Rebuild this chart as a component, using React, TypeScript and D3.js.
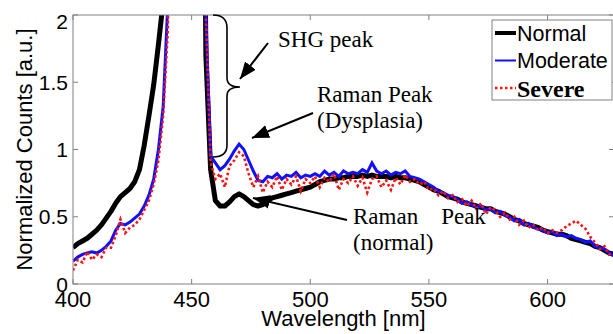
import { useEffect, useRef } from "react";
import * as d3 from "d3";

// wavelengths sampled every 2 nm, 400..628
const wavelengths = [
  400, 402, 404, 406, 408, 410, 412, 414, 416, 418, 420, 422, 424, 426, 428, 430,
  432, 434, 436, 438, 440, 442, 444, 446, 448, 450, 452, 454, 456, 458, 460, 462,
  464, 466, 468, 470, 472, 474, 476, 478, 480, 482, 484, 486, 488, 490, 492, 494,
  496, 498, 500, 502, 504, 506, 508, 510, 512, 514, 516, 518, 520, 522, 524, 526,
  528, 530, 532, 534, 536, 538, 540, 542, 544, 546, 548, 550, 552, 554, 556, 558,
  560, 562, 564, 566, 568, 570, 572, 574, 576, 578, 580, 582, 584, 586, 588, 590,
  592, 594, 596, 598, 600, 602, 604, 606, 608, 610, 612, 614, 616, 618, 620, 622,
  624, 626, 628,
];

const normal = [
  0.27, 0.3, 0.32, 0.34, 0.37, 0.4, 0.44, 0.49, 0.54, 0.6, 0.65, 0.68, 0.71, 0.76, 0.85, 1.03,
  1.25, 1.48, 1.78, 2.1, 3.5, 6, 8, 8, 8, 8, 8, 6, 1.7, 0.85, 0.62, 0.58,
  0.58, 0.61, 0.65, 0.67, 0.65, 0.62, 0.59, 0.58, 0.59, 0.62, 0.64, 0.65, 0.66, 0.67, 0.68, 0.69,
  0.7, 0.71, 0.72, 0.74, 0.76, 0.77, 0.78, 0.78, 0.79, 0.79, 0.8, 0.8, 0.8, 0.81, 0.8, 0.81,
  0.8, 0.8, 0.8, 0.79, 0.8, 0.79, 0.79, 0.78, 0.77, 0.76, 0.74, 0.72, 0.7, 0.69, 0.67, 0.65,
  0.64, 0.63, 0.61, 0.6, 0.59, 0.58, 0.57, 0.56, 0.56, 0.54, 0.53, 0.52, 0.5, 0.48, 0.47, 0.45,
  0.44, 0.43, 0.42, 0.4, 0.39, 0.38, 0.37, 0.37, 0.36, 0.34, 0.33, 0.32, 0.31, 0.3, 0.28, 0.27,
  0.25, 0.23, 0.22,
];

const moderate = [
  0.17, 0.2, 0.22, 0.23, 0.24, 0.23, 0.25, 0.28, 0.32, 0.4, 0.45, 0.44, 0.46, 0.49, 0.52, 0.58,
  0.66, 0.78, 1.0, 1.32, 2.1, 6, 8, 8, 8, 8, 8, 6, 2.0, 0.95, 0.9, 0.85,
  0.88, 0.93, 0.99, 1.04, 1.0, 0.92, 0.84, 0.77, 0.76, 0.8, 0.79, 0.82, 0.78, 0.81, 0.8, 0.83,
  0.79, 0.81, 0.8, 0.82, 0.8, 0.84, 0.81, 0.83, 0.8, 0.84, 0.82, 0.83, 0.82, 0.85, 0.83, 0.9,
  0.84, 0.82, 0.84, 0.81, 0.83, 0.82, 0.84, 0.8, 0.79, 0.78, 0.76, 0.74, 0.72, 0.69, 0.68, 0.66,
  0.65, 0.63, 0.6, 0.61, 0.59, 0.57, 0.58, 0.55, 0.56, 0.53, 0.54, 0.51, 0.5, 0.47, 0.48, 0.44,
  0.45, 0.42, 0.41, 0.4, 0.38, 0.39, 0.36, 0.37, 0.35, 0.36, 0.34, 0.33, 0.31, 0.32, 0.28, 0.27,
  0.26, 0.23, 0.21,
];

const severe = [
  0.1, 0.18, 0.16, 0.24, 0.18, 0.22, 0.2, 0.27, 0.27, 0.36, 0.48, 0.38, 0.42, 0.44, 0.48, 0.55,
  0.62, 0.74, 0.92, 1.25, 1.9, 6, 8, 8, 8, 8, 8, 6, 2.0, 0.9, 0.78, 0.82,
  0.72, 0.88, 0.92, 0.98, 0.95, 0.82, 0.72, 0.8, 0.68, 0.76, 0.72, 0.8, 0.7, 0.78, 0.74, 0.8,
  0.69, 0.78, 0.75, 0.8, 0.72, 0.79, 0.76, 0.82, 0.7, 0.78, 0.75, 0.8, 0.73, 0.79, 0.68, 0.78,
  0.8, 0.72, 0.77, 0.7, 0.79, 0.74, 0.81, 0.76, 0.78, 0.74, 0.76, 0.7, 0.71, 0.66, 0.69, 0.64,
  0.66, 0.61, 0.63, 0.58, 0.62, 0.56, 0.6, 0.52, 0.57, 0.55, 0.5, 0.53, 0.48, 0.5, 0.44, 0.47,
  0.42, 0.44, 0.4, 0.42, 0.38, 0.4, 0.38, 0.4, 0.43, 0.45, 0.47, 0.44, 0.41, 0.35, 0.31, 0.26,
  0.28, 0.22, 0.24,
];

const xTicks = [400, 450, 500, 550, 600];
const yTicks = [0, 0.5, 1, 1.5, 2];

const W = 613;
const H = 334;
const left = 73, right = 614, top = 15, bottom = 284;

export default function App() {
  const svgRef = useRef<SVGSVGElement>(null);

  useEffect(() => {
    if (!svgRef.current) return;
    const svg = d3.select(svgRef.current);
    svg.selectAll("*").remove();

    const x = d3.scaleLinear().domain([400, 628]).range([left, right]);
    const y = d3.scaleLinear().domain([0, 2]).range([bottom, top]);

    const defs = svg.append("defs");
    defs.append("clipPath").attr("id", "plotclip")
      .append("rect").attr("x", left).attr("y", top)
      .attr("width", right - left).attr("height", bottom - top);
    defs.append("marker").attr("id", "head")
      .attr("viewBox", "0 0 10 10").attr("refX", 10).attr("refY", 5)
      .attr("markerWidth", 17).attr("markerHeight", 17)
      .attr("markerUnits", "userSpaceOnUse").attr("orient", "auto")
      .append("path").attr("d", "M0,1 L10,5 L0,9 Z").attr("fill", "#000");

    const line = d3.line<number>()
      .x((_, i) => x(wavelengths[i]))
      .y((d) => y(d));

    const plot = svg.append("g").attr("clip-path", "url(#plotclip)");
    plot.append("path").attr("d", line(normal)!)
      .attr("fill", "none").attr("stroke", "#000").attr("stroke-width", 5)
      .attr("stroke-linejoin", "round");
    plot.append("path").attr("d", line(moderate)!)
      .attr("fill", "none").attr("stroke", "#1010ff").attr("stroke-width", 3);
    plot.append("path").attr("d", line(severe)!)
      .attr("fill", "none").attr("stroke", "#ff1010").attr("stroke-width", 2.6)
      .attr("stroke-dasharray", "2.5,2.5");

    // frame + inward ticks
    const axisColor = "#808080";
    const sans = "Liberation Sans, Arial, sans-serif";
    svg.append("rect").attr("x", left).attr("y", top)
      .attr("width", right - left).attr("height", bottom - top)
      .attr("fill", "none").attr("stroke", axisColor).attr("stroke-width", 1);
    xTicks.forEach((t) => {
      svg.append("line").attr("x1", x(t)).attr("x2", x(t)).attr("y1", bottom).attr("y2", bottom - 5)
        .attr("stroke", axisColor);
      svg.append("line").attr("x1", x(t)).attr("x2", x(t)).attr("y1", top).attr("y2", top + 5)
        .attr("stroke", axisColor);
      svg.append("text").attr("x", x(t)).attr("y", bottom + 23)
        .attr("text-anchor", "middle").style("font-family", sans)
        .style("font-size", "22px").text(t);
    });
    yTicks.forEach((t) => {
      svg.append("line").attr("x1", left).attr("x2", left + 5).attr("y1", y(t)).attr("y2", y(t))
        .attr("stroke", axisColor);
      svg.append("line").attr("x1", right).attr("x2", right - 5).attr("y1", y(t)).attr("y2", y(t))
        .attr("stroke", axisColor);
      svg.append("text").attr("x", left - 5).attr("y", Math.max(y(t), 21))
        .attr("dy", "0.36em")
        .attr("text-anchor", "end").style("font-family", sans)
        .style("font-size", "21px").text(t);
    });

    svg.append("text").attr("x", (left + right) / 2).attr("y", 326)
      .attr("text-anchor", "middle").style("font-family", sans)
      .style("font-size", "22px").text("Wavelength [nm]");
    svg.append("text").attr("transform", `translate(32, ${(top + bottom) / 2}) rotate(-90)`)
      .attr("text-anchor", "middle").style("font-family", sans)
      .style("font-size", "22px").text("Normalized Counts [a.u.]");

    // legend
    const lg = svg.append("g");
    lg.append("rect").attr("x", 492).attr("y", 20).attr("width", 120).attr("height", 80)
      .attr("fill", "#fff").attr("stroke", axisColor);
    const items = [
      { name: "Normal", color: "#000", w: 4, dash: null, font: sans, weight: "normal", size: 21.5 },
      { name: "Moderate", color: "#1010ff", w: 2, dash: null, font: sans, weight: "normal", size: 21.5 },
      { name: "Severe", color: "#ff1010", w: 2.5, dash: "2.5,2.5", font: "Liberation Serif, Times New Roman, serif", weight: "bold", size: 24 },
    ];
    items.forEach((it, i) => {
      const yy = 33 + i * 27.5;
      lg.append("line").attr("x1", 495).attr("x2", 516).attr("y1", yy).attr("y2", yy)
        .attr("stroke", it.color).attr("stroke-width", it.w)
        .attr("stroke-dasharray", it.dash);
      lg.append("text").attr("x", 517).attr("y", yy).attr("dy", "0.36em")
        .style("font-family", it.font).style("font-weight", it.weight)
        .style("font-size", `${it.size}px`).text(it.name);
    });

    // annotations
    const serif = "Liberation Serif, Times New Roman, serif";
    const ann = (tx: number, ty: number, s: string) =>
      svg.append("text").attr("x", tx).attr("y", ty).style("font-family", serif)
        .style("font-size", "23px").attr("xml:space", "preserve").text(s);
    ann(278, 47, "SHG peak");
    ann(317, 102, "Raman Peak");
    ann(317, 128, "(Dysplasia)");
    ann(353, 224, "Raman    Peak");
    ann(353, 250, "(normal)");

    // brace
    svg.append("path")
      .attr("d", "M213,15 Q227,15 227,28 L227,78 Q227,87 240,87 Q227,87 227,96 L227,145 Q227,157 213,157")
      .attr("fill", "none").attr("stroke", "#000").attr("stroke-width", 1.6);

    const arrow = (x1: number, y1: number, x2: number, y2: number) =>
      svg.append("line").attr("x1", x1).attr("y1", y1).attr("x2", x2).attr("y2", y2)
        .attr("stroke", "#000").attr("stroke-width", 2).attr("marker-end", "url(#head)");
    arrow(268, 43, 240, 79);
    arrow(313, 113, 252, 138);
    arrow(347, 220, 253, 198);
  }, []);

  return (
    <svg
      ref={svgRef}
      width={W}
      height={H}
      viewBox={`0 0 ${W} ${H}`}
      style={{ position: "fixed", left: 0, top: 0, background: "#fff" }}
    />
  );
}
